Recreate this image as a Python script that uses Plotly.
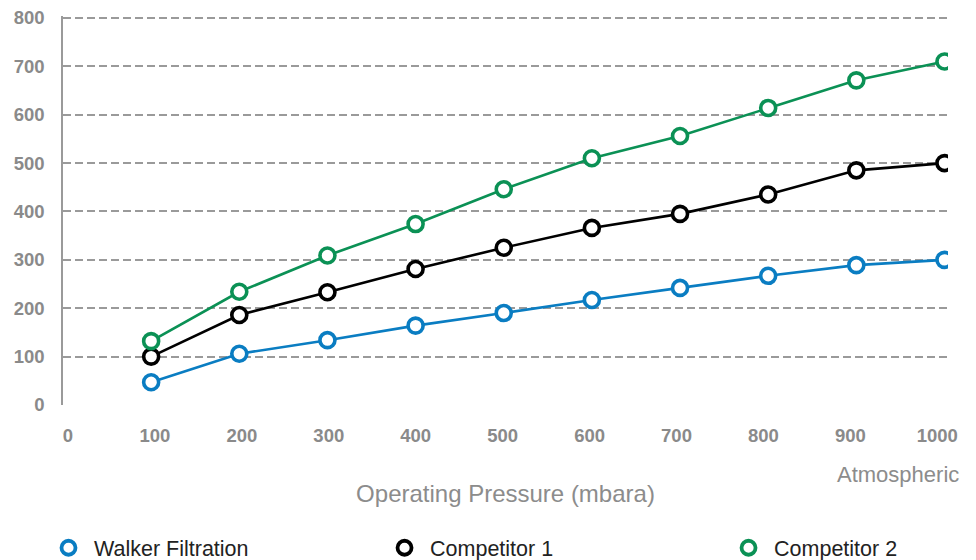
import plotly.graph_objects as go

pressure = [100, 200, 300, 400, 500, 600, 700, 800, 900, 1000]
walker = [47, 106, 134, 164, 190, 217, 242, 267, 289, 300]
competitor1 = [100, 186, 233, 281, 325, 366, 395, 435, 485, 500]
competitor2 = [132, 234, 309, 374, 446, 510, 556, 614, 671, 710]

series = [
    ("Walker Filtration", walker, "#0a7dc2"),
    ("Competitor 1", competitor1, "#000000"),
    ("Competitor 2", competitor2, "#0b9155"),
]

x_ticks = [0, 100, 200, 300, 400, 500, 600, 700, 800, 900, 1000]
y_ticks = [0, 100, 200, 300, 400, 500, 600, 700, 800]

FONT = "Liberation Sans, Arial, sans-serif"
legend_ids = ["legend", "legend2", "legend3"]
legend_x = [-0.0226, 0.3571, 0.7458]

fig = go.Figure()
for (name, vals, col), lid in zip(series, legend_ids):
    fig.add_trace(go.Scatter(
        x=pressure, y=vals, name=name, mode="lines+markers",
        line=dict(color=col, width=2.6),
        marker=dict(symbol="circle", size=15, color="white",
                    line=dict(color=col, width=3.6)),
        showlegend=False,
    ))
    # legend entry (marker only)
    fig.add_trace(go.Scatter(
        x=[None], y=[None], name=name, mode="markers",
        marker=dict(symbol="circle", size=14, color="white",
                    line=dict(color=col, width=3.8)),
        legend=lid, showlegend=True,
    ))

# empty trace so the overlaying label axis (xaxis2) gets drawn
fig.add_trace(go.Scatter(x=[None], y=[None], xaxis="x2", yaxis="y",
                         showlegend=False, hoverinfo="skip"))

tick_font = dict(family=FONT, size=18.5, color="#8a8a8a", weight="bold")
leg_font = dict(family=FONT, size=21.5, color="#222222")

layout_legends = {}
for lid, lx in zip(legend_ids, legend_x):
    layout_legends[lid] = dict(orientation="h", x=lx, xanchor="left",
                               y=-0.367, yanchor="middle", itemwidth=41,
                               bgcolor="rgba(0,0,0,0)", font=leg_font)

# page body has an 8px margin: figure is 968x552 so it ends at 976x560
fig.update_layout(
    width=968, height=552,
    margin=dict(l=55, r=28, t=8, b=155, autoexpand=False),
    paper_bgcolor="white", plot_bgcolor="white",
    showlegend=True,
    xaxis=dict(range=[0, 1004], tickvals=x_ticks, showgrid=False,
               zeroline=False, showline=False, ticks="", automargin=False,
               showticklabels=False,
               title=dict(text="Operating Pressure (mbara)", standoff=80,
                          font=dict(family=FONT, size=24, color="#8c8c8c"))),
    # category-style label axis (labels spaced slightly tighter than points)
    xaxis2=dict(overlaying="x", anchor="y", side="bottom",
                range=[-5.75, 1012.3], tickvals=x_ticks, showgrid=False,
                zeroline=False, showline=False, ticks="", automargin=False,
                ticklabelstandoff=17, tickfont=tick_font,
                ticklabeloverflow="allow"),
    yaxis=dict(range=[0, 804], tickvals=y_ticks, showgrid=True,
               gridcolor="#9a9a9a", gridwidth=1.5, griddash="8px,4px",
               zeroline=True, zerolinecolor="rgba(0,0,0,0)", automargin=False,
               showline=True, linecolor="#9a9a9a", linewidth=1.5,
               ticks="", ticklabelstandoff=13, tickfont=tick_font,
               ticklabeloverflow="allow"),
    annotations=[dict(text="Atmospheric", xref="paper", yref="paper",
                      x=1.015, y=-0.178, xanchor="right", yanchor="middle",
                      showarrow=False,
                      font=dict(family=FONT, size=22, color="#8c8c8c"))],
    **layout_legends,
)

fig.write_html("out.html")
